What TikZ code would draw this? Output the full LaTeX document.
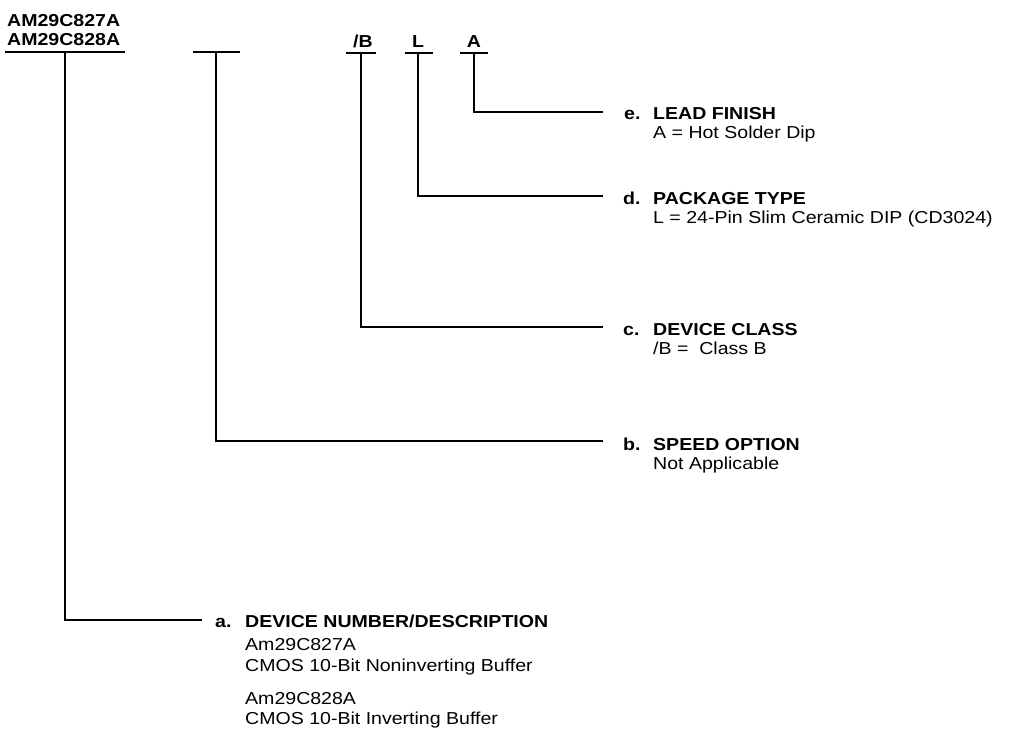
\documentclass[tikz,border=0pt]{standalone}
\usepackage{fontspec}
\setmainfont{Liberation Sans}[FakeStretch=1.13]
\begin{document}
\begin{tikzpicture}[x=1pt,y=-1pt,
  txt/.style={inner sep=0pt, anchor=base west, font=\fontsize{17.3}{20}\selectfont},
  hd/.style={txt, font=\bfseries\fontsize{17.3}{20}\selectfont},
  ln/.style={line width=1.6pt},
  bar/.style={line width=1.8pt}]
\useasboundingbox (0,0) rectangle (1010,729);
% header
\node[hd] (h1) at (7,26) {AM29C827A};
\node[hd] (h2) at (7,45) {AM29C828A};
\node[hd,anchor=base] (lB) at (363,47) {/B};
\node[hd,anchor=base] (lL) at (418,47) {L};
\node[hd,anchor=base] (lA) at (474,47) {A};
% bars
\coordinate (b1l) at (5,52);   \coordinate (b1r) at (125,52);
\coordinate (b2l) at (193,52); \coordinate (b2r) at (240,52);
\coordinate (b3l) at (346,53); \coordinate (b3r) at (376,53);
\coordinate (b4l) at (405,53); \coordinate (b4r) at (433,53);
\coordinate (b5l) at (460,53); \coordinate (b5r) at (488,53);
\draw[bar] (b1l) -- (b1r);
\draw[bar] (b2l) -- (b2r);
\draw[bar] (b3l) -- (b3r);
\draw[bar] (b4l) -- (b4r);
\draw[bar] (b5l) -- (b5r);
% connector junctions
\coordinate (ta) at (65,52);  \coordinate (ea) at (202,620);
\coordinate (tb) at (216,52); \coordinate (eb) at (603,441);
\coordinate (tc) at (361,53); \coordinate (ec) at (603,327);
\coordinate (td) at (418,53); \coordinate (ed) at (603,196);
\coordinate (te) at (474,53); \coordinate (ee) at (603,112);
\draw[ln] (ta) |- (ea);
\draw[ln] (tb) |- (eb);
\draw[ln] (tc) |- (ec);
\draw[ln] (td) |- (ed);
\draw[ln] (te) |- (ee);
% e
\node[hd] (ke) at (624,119) {e.};
\node[hd] (ne) at (653,119) {LEAD FINISH};
\node[txt] (se) at (653,138) {A = Hot Solder Dip};
% d
\node[hd] (kd) at (623,204) {d.};
\node[hd] (nd) at (653,204) {PACKAGE TYPE};
\node[txt] (sd) at (653,223) {L = 24-Pin Slim Ceramic DIP (CD3024)};
% c
\node[hd] (kc) at (623,335) {c.};
\node[hd] (nc) at (653,335) {DEVICE CLASS};
\node[txt] (sc) at (653,354) {/B =\ \ Class B};
% b
\node[hd] (kb) at (623,450) {b.};
\node[hd] (nb) at (653,450) {SPEED OPTION};
\node[txt] (sb) at (653,469) {Not Applicable};
% a
\node[hd] (ka) at (215,627) {a.};
\node[hd] (na) at (245,627) {DEVICE NUMBER/DESCRIPTION};
\node[txt] (sa1) at (245,650) {Am29C827A};
\node[txt] (sa2) at (245,671) {CMOS 10-Bit Noninverting Buffer};
\node[txt] (sa3) at (245,704) {Am29C828A};
\node[txt] (sa4) at (245,724) {CMOS 10-Bit Inverting Buffer};
\end{tikzpicture}
\end{document}
